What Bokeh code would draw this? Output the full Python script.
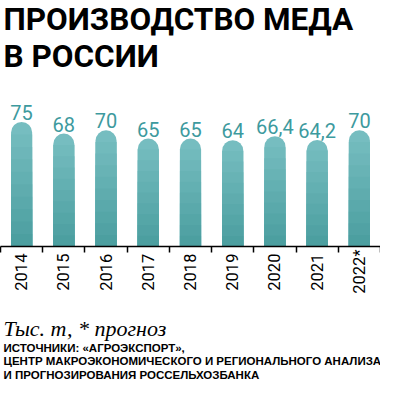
import numpy as np
from bokeh.plotting import figure
from bokeh.layouts import column
from bokeh.models import Range1d, FixedTicker, ColumnDataSource
from bokeh.embed import file_html
from bokeh.resources import INLINE
from bokeh.core.properties import value

# ---- data ----
years = ["2014", "2015", "2016", "2017", "2018", "2019", "2020", "2021", "2022*"]
production = [75, 68, 70, 65, 65, 64, 66.4, 64.2, 70]
value_labels = ["75", "68", "70", "65", "65", "64", "66,4", "64,2", "70"]

title_lines = ["ПРОИЗВОДСТВО МЕДА", "В РОССИИ"]
unit_note = "Тыс. т, * прогноз"
source_lines = [
    "ИСТОЧНИКИ: «АГРОЭКСПОРТ»,",
    "ЦЕНТР МАКРОЭКОНОМИЧЕСКОГО И РЕГИОНАЛЬНОГО АНАЛИЗА",
    "И ПРОГНОЗИРОВАНИЯ РОССЕЛЬХОЗБАНКА",
]

# ---- styling / layout ----
TOP_COL = np.array([0x76, 0xbd, 0xc0])
BOT_COL = np.array([0x4c, 0x9f, 0xa0])
LABEL_COL = "#3d9a9e"
SANS = "Roboto"

W = 380
HEAD_H = 92          # title block
FRAME_H = 154        # bar area
AXIS_H = 52          # x axis below bars
FOOT_H = 83          # notes block
PX_PER_UNIT = 1.66
n = len(years)
idx = list(range(n))


def text_panel(height):
    f = figure(width=W, height=height, output_backend="svg", toolbar_location=None,
               x_range=Range1d(0, W), y_range=Range1d(height, 0),
               x_axis_type=None, y_axis_type=None,
               min_border=0, min_border_left=0, min_border_right=0,
               min_border_top=0, min_border_bottom=0)
    f.outline_line_color = None
    f.grid.visible = False
    f.background_fill_color = "white"
    f.border_fill_color = "white"
    return f


# ---- header ----
head = text_panel(HEAD_H)
head.text(x=[3, 3], y=[19, 55.5], text=title_lines, text_font=value(SANS),
          text_font_size="31.5px", text_font_style="bold", text_color="black",
          text_baseline="alphabetic", text_align="left")

# ---- chart ----
p = figure(width=W, height=FRAME_H + AXIS_H, output_backend="svg", toolbar_location=None,
           x_range=Range1d(-0.5, n - 0.5),
           y_range=Range1d(0, FRAME_H / PX_PER_UNIT),
           min_border_left=0, min_border_right=0, min_border_top=0,
           min_border_bottom=AXIS_H)
p.outline_line_color = None
p.grid.visible = False
p.yaxis.visible = False
p.background_fill_color = "white"
p.border_fill_color = "white"

# bars: layered bands to imitate the vertical gradient
N = 10
for j in range(N):
    frac = (N - j) / N
    c = TOP_COL + (BOT_COL - TOP_COL) * (j / (N - 1))
    col = "#%02x%02x%02x" % tuple(int(round(v)) for v in c)
    tops = [v * frac for v in production]
    kw = {}
    if j == 0:
        kw["border_radius"] = (11, 11, 0, 0)
    p.vbar(x=idx, top=tops, bottom=0, width=0.5, fill_color=col,
           line_color=None, **kw)

src = ColumnDataSource(dict(x=idx, y=production, t=value_labels))
p.text(x="x", y="y", text="t", source=src, y_offset=-2,
       text_align="center", text_baseline="bottom",
       text_font=value(SANS), text_font_size="20px", text_color=LABEL_COL)

# x axis: labels at centres, ticks at category boundaries
xa = p.xaxis[0]
xa.ticker = FixedTicker(ticks=idx, minor_ticks=[i - 0.5 for i in range(n + 1)])
xa.major_label_overrides = {i: (y if y.endswith("*") else y + "\u00a0") for i, y in enumerate(years)}
xa.major_label_orientation = np.pi / 2
xa.major_label_text_font = SANS
xa.major_label_text_font_size = "16.5px"
xa.major_label_text_color = "black"
xa.major_label_standoff = -3
xa.major_tick_out = 0
xa.major_tick_in = 0
xa.minor_tick_out = 6
xa.minor_tick_in = 0
xa.minor_tick_line_color = "black"
xa.minor_tick_line_width = 1.5
xa.axis_line_color = "black"
xa.axis_line_width = 1.5

# ---- footer ----
foot = text_panel(FOOT_H)
foot.text(x=[3], y=[30], text=[unit_note], text_font=value("Liberation Serif"),
          text_font_size="22px", text_font_style="italic", text_color="black",
          text_baseline="alphabetic", text_align="left")
foot.text(x=[3, 3, 3], y=[49, 62.5, 76], text=source_lines,
          text_font=value("Liberation Sans"), text_font_size="11.5px",
          text_font_style="bold", text_color="black",
          text_baseline="alphabetic", text_align="left")

layout = column(head, p, foot, spacing=0)
open("out.html", "w").write(file_html(layout, INLINE))
